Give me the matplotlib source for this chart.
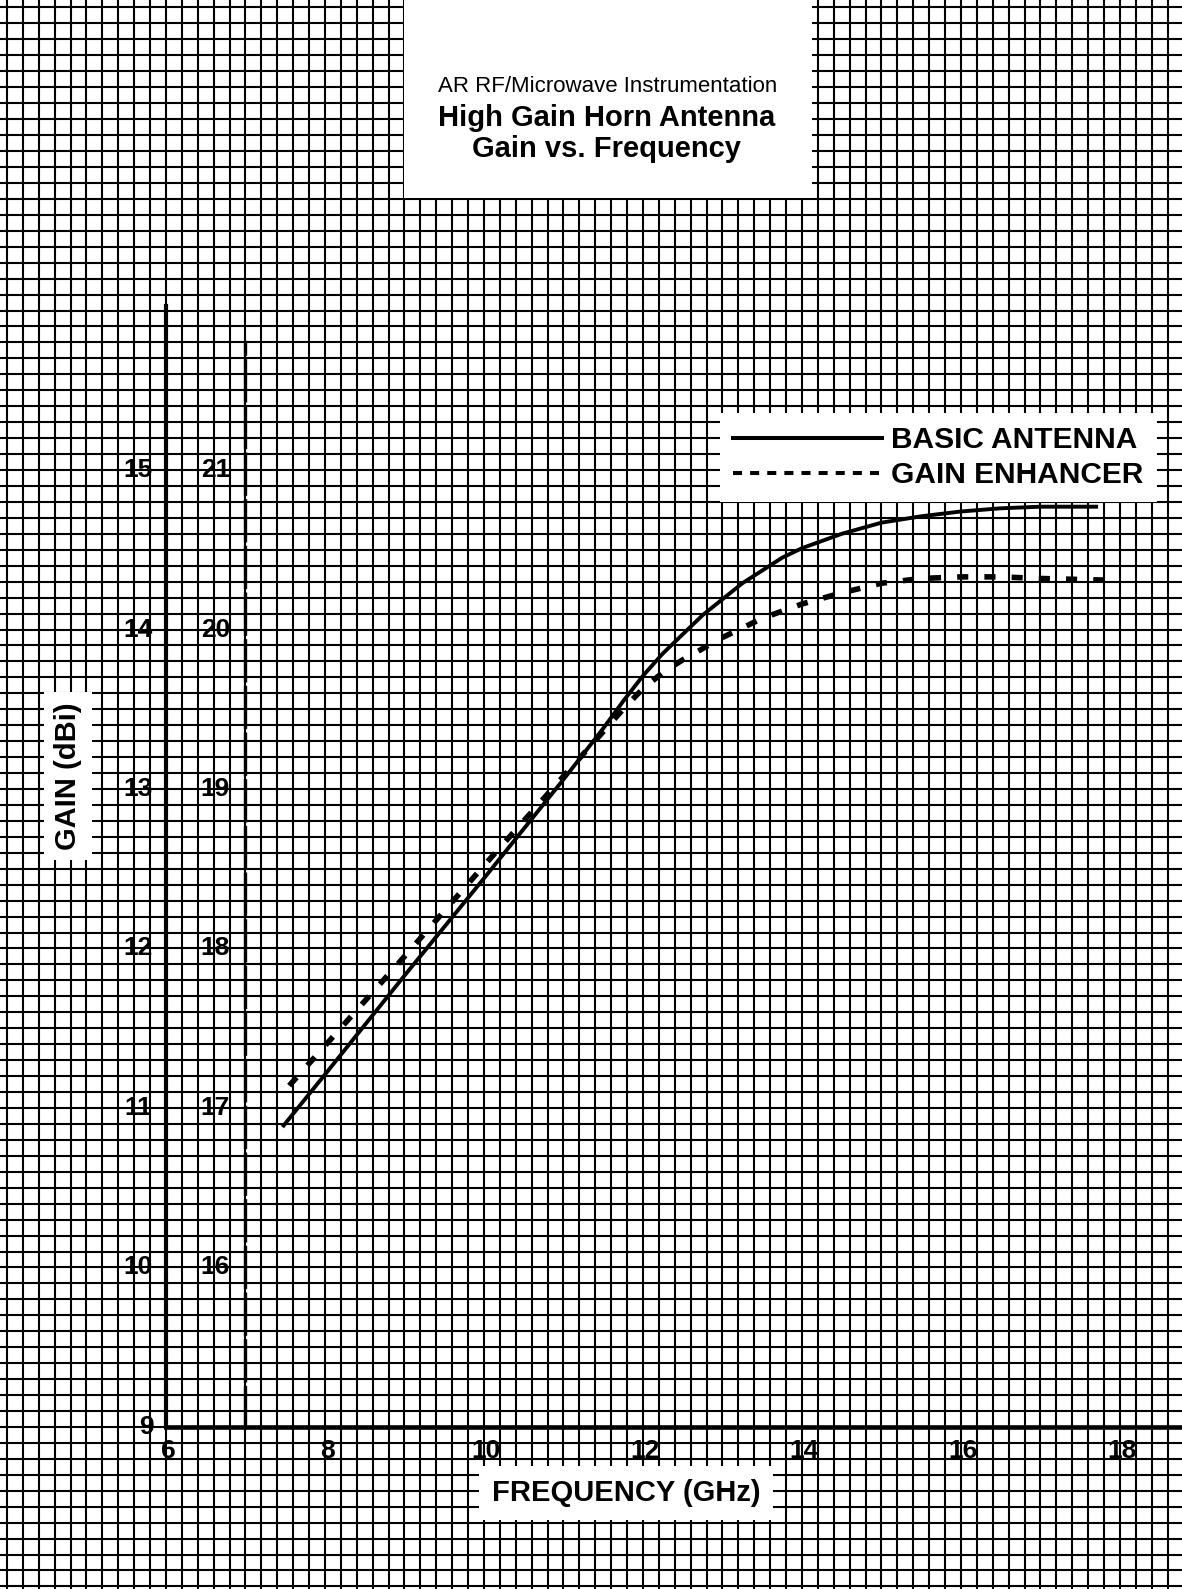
import matplotlib
matplotlib.use('Agg')
import matplotlib.pyplot as plt
import matplotlib.ticker as ticker
from matplotlib.lines import Line2D
from matplotlib.patches import Rectangle

plt.rcParams['font.family'] = ['Liberation Sans', 'DejaVu Sans']

# Data (GHz, dBi)
freq_basic = [7.48, 8.0, 9.0, 10.0, 11.0, 11.5, 11.75, 12.0, 12.25, 12.5, 12.75, 13.0, 13.25, 13.5,
              13.75, 14.0, 14.5, 15.0, 15.5, 16.0, 16.5, 17.0, 17.7]
gain_basic = [10.89, 11.21, 11.83, 12.44, 13.06, 13.38, 13.55, 13.71, 13.85, 13.97, 14.09, 14.19, 14.29, 14.37,
              14.45, 14.51, 14.60, 14.67, 14.71, 14.74, 14.76, 14.77, 14.77]

freq_enh = [7.55, 8.0, 9.0, 10.0, 11.0, 11.5, 11.75, 12.0, 12.25, 12.5, 12.75, 13.0, 13.5, 14.0, 14.5,
            15.0, 15.5, 16.0, 16.5, 17.0, 17.8]
gain_enh = [11.14, 11.39, 11.95, 12.52, 13.08, 13.36, 13.50, 13.63, 13.73, 13.81, 13.88, 13.95, 14.07, 14.16, 14.23,
            14.29, 14.32, 14.33, 14.33, 14.32, 14.31]

x_ticks = [6, 8, 10, 12, 14, 16, 18]
y_ticks = [10, 11, 12, 13, 14, 15]
y_labels_enh = [16, 17, 18, 19, 20, 21]   # gain enhancer scale (+6 dB)
legend_labels = ['BASIC ANTENNA', 'GAIN ENHANCER']

W, H = 1182, 1589
# graph paper covers the whole sheet: 0.2 GHz x 0.1 dB per square
x_lo, x_hi = 3.912, 18.78
y_lo, y_hi = 7.984, 17.947


def fpos(x, y):
    # pixel position -> figure fraction
    return x / W, 1 - y / H


fig = plt.figure(figsize=(W / 100, H / 100), dpi=100)
ax = fig.add_axes([0, 0, 1, 1])
ax.set_xlim(x_lo, x_hi)
ax.set_ylim(y_lo, y_hi)

ax.xaxis.set_major_locator(ticker.MultipleLocator(0.2))
ax.yaxis.set_major_locator(ticker.MultipleLocator(0.1))
ax.grid(True, color='black', linewidth=1.5)
ax.set_axisbelow(True)
ax.tick_params(length=0, labelbottom=False, labelleft=False)

# axes drawn on the paper
ax.spines['top'].set_visible(False)
ax.spines['left'].set_position(('data', 6))
ax.spines['left'].set_bounds(9, 16.03)
ax.spines['left'].set_linewidth(3.0)
ax.spines['bottom'].set_position(('data', 9))
ax.spines['bottom'].set_bounds(6, x_hi)
ax.spines['bottom'].set_linewidth(3.3)
ax.spines['right'].set_position(('data', 7))
ax.spines['right'].set_bounds(9, 15.8)
ax.spines['right'].set_linewidth(2.4)
ax.spines['right'].set_linestyle((0, (12, 2)))

# curves
ax.plot(freq_basic, gain_basic, color='black', lw=2.8, zorder=3)
ax.plot(freq_enh, gain_enh, color='black', lw=4, linestyle=(0, (2.0, 2.9)), zorder=3)

# title block
ax.add_patch(Rectangle((9.0, 16.705), 5.126, 1.4, facecolor='white', edgecolor='none', zorder=1))
fig.text(*fpos(608, 86), 'AR RF/Microwave Instrumentation', ha='center', va='center', fontsize=16)
fig.text(*fpos(607, 118), 'High Gain Horn Antenna', ha='center', va='center', fontsize=21, fontweight='bold')
fig.text(*fpos(606, 149), 'Gain vs. Frequency', ha='center', va='center', fontsize=21, fontweight='bold')

# tick labels
for v, lab in zip(y_ticks, y_labels_enh):
    ax.text(5.65, v, str(v), ha='center', va='center', fontsize=19, fontweight='bold')
    ax.text(6.62, v, str(lab), ha='center', va='center', fontsize=19, fontweight='bold')
ax.text(5.76, 9.0, '9', ha='center', va='center', fontsize=19, fontweight='bold')
for v in x_ticks:
    ax.text(v + 0.03, 8.85, str(v), ha='center', va='center', fontsize=19, fontweight='bold')

# axis titles
fig.text(*fpos(68, 776), 'GAIN (dBi)', rotation=90, ha='center', va='center', fontsize=21,
         fontweight='bold', bbox=dict(boxstyle='square,pad=0.35', fc='white', ec='none'))
fig.text(*fpos(626, 1493), 'FREQUENCY (GHz)', ha='center', va='center', fontsize=21,
         fontweight='bold', bbox=dict(boxstyle='square,pad=0.45', fc='white', ec='none'))

# legend
handles = [Line2D([], [], color='black', lw=2.9),
           Line2D([], [], color='black', lw=2.9, linestyle=(0, (2.25, 2.0)))]
leg = ax.legend(handles, legend_labels, loc='upper right',
                bbox_to_anchor=fpos(1157, 413), bbox_transform=fig.transFigure,
                prop={'weight': 'bold', 'size': 21.5}, handlelength=5.0, handletextpad=0.3,
                borderpad=0.45, labelspacing=0.22, borderaxespad=0,
                fancybox=False, framealpha=1, facecolor='white', edgecolor='white')
leg.get_frame().set_linewidth(0)

fig.savefig('out.png', dpi=100)
